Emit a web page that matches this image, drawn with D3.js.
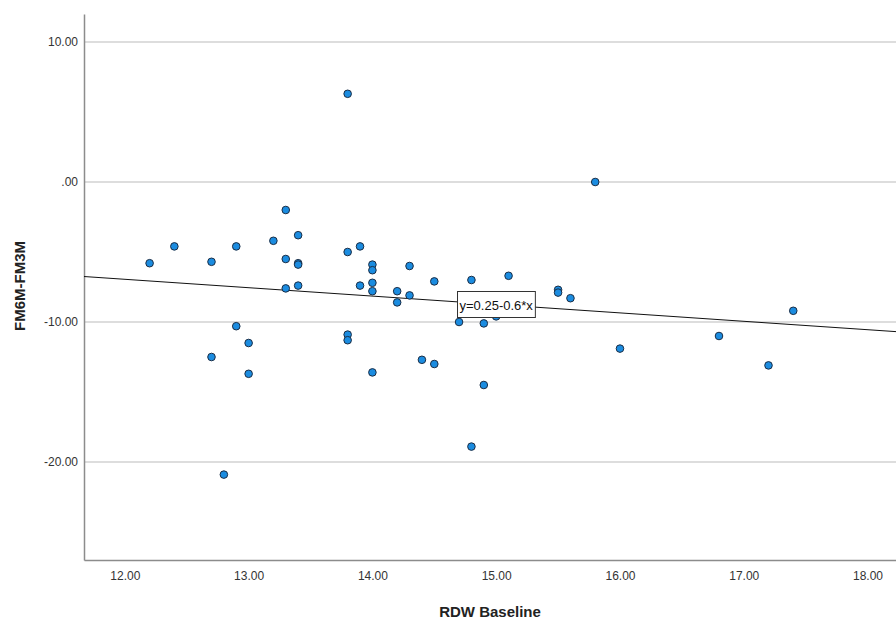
<!DOCTYPE html>
<html>
<head>
<meta charset="utf-8">
<script src="https://cdn.jsdelivr.net/npm/d3@7/dist/d3.min.js"></script>
<style>
  html, body { margin: 0; padding: 0; background: #fff; }
  svg { display: block; }
  text { font-family: "Liberation Sans", Arial, sans-serif; }
</style>
</head>
<body>
<svg id="chart" width="896" height="622"></svg>
<script>
// ---- data ----
const xValues = [12.2, 12.4, 12.7, 12.7, 12.8, 12.9, 12.9, 13.0, 13.0, 13.2,
                 13.3, 13.3, 13.3, 13.4, 13.4, 13.4, 13.4, 13.8, 13.8, 13.8,
                 13.8, 13.9, 13.9, 14.0, 14.0, 14.0, 14.0, 14.0, 14.2, 14.2,
                 14.3, 14.3, 14.4, 14.5, 14.5, 14.7, 14.8, 14.8, 14.9, 14.9,
                 15.0, 15.1, 15.5, 15.5, 15.6, 15.8, 16.0, 16.8, 17.2, 17.4];
const yValues = [-5.8, -4.6, -5.7, -12.5, -20.9, -4.6, -10.3, -11.5, -13.7, -4.2,
                 -2.0, -5.5, -7.6, -3.8, -5.8, -5.9, -7.4, 6.3, -5.0, -10.9,
                 -11.3, -4.6, -7.4, -5.9, -6.3, -7.2, -7.8, -13.6, -7.8, -8.6,
                 -6.0, -8.1, -12.7, -7.1, -13.0, -10.0, -7.0, -18.9, -10.1, -14.5,
                 -9.6, -6.7, -7.7, -7.9, -8.3, 0.0, -11.9, -11.0, -13.1, -9.2];
const xTicks = [12, 13, 14, 15, 16, 17, 18];
const yTicks = [10, 0, -10, -20];
const fitIntercept = 0.25;
const fitSlope = -0.6;
const fitLabel = "y=0.25-0.6*x";
const fitLabelAtX = 15.0;
const xTitle = "RDW Baseline";
const yTitle = "FM6M-FM3M";

(function () {
// ---- layout ----
const svg = d3.select("#chart");
const pLeft = 84, pRight = 896, pTop = 14, pBottom = 560;
const x = d3.scaleLinear().domain([11.67, 18.23]).range([pLeft, pRight]);
const y = d3.scaleLinear().domain([-27, 12]).range([pBottom, pTop]);
const fmt = v => v === 0 ? ".00" : (v < 0 ? "-" : "") + Math.abs(v).toFixed(2);

// gridlines
svg.append("g").selectAll("line").data(yTicks).join("line")
  .attr("x1", pLeft).attr("x2", pRight)
  .attr("y1", d => y(d)).attr("y2", d => y(d))
  .attr("stroke", "#d2d2d2").attr("stroke-width", 1.5);

// axes
const yAxis = d3.axisLeft(y).tickValues(yTicks).tickFormat(fmt).tickSize(0).tickPadding(6);
const gy = svg.append("g").attr("transform", `translate(${pLeft},0)`).call(yAxis);
gy.select(".domain").attr("stroke", "#8c8c8c").attr("stroke-width", 1.5);
gy.selectAll("text").attr("font-size", 12).attr("fill", "#333");

const xAxis = d3.axisBottom(x).tickValues(xTicks).tickFormat(fmt).tickSize(0).tickPadding(11);
const gx = svg.append("g").attr("transform", `translate(0,${pBottom})`).call(xAxis);
gx.select(".domain").attr("stroke", "#8c8c8c").attr("stroke-width", 1.5);
gx.selectAll("text").attr("font-size", 12).attr("fill", "#333");

// fit line
const fit = v => fitIntercept + fitSlope * v;
const xd = x.domain();
svg.append("line")
  .attr("x1", x(xd[0])).attr("y1", y(fit(xd[0])))
  .attr("x2", x(xd[1])).attr("y2", y(fit(xd[1])))
  .attr("stroke", "#111").attr("stroke-width", 1);

// points
svg.append("g").selectAll("circle").data(xValues.map((v, i) => [v, yValues[i]])).join("circle")
  .attr("cx", d => x(d[0])).attr("cy", d => y(d[1]))
  .attr("r", 3.8)
  .attr("fill", "#1b8ce0")
  .attr("stroke", "#1a2d45").attr("stroke-width", 1);

// fit label box
const lg = svg.append("g");
const lt = lg.append("text")
  .attr("x", x(fitLabelAtX)).attr("y", y(fit(fitLabelAtX)) + 5)
  .attr("text-anchor", "middle").attr("font-size", 13).attr("fill", "#111")
  .text(fitLabel);
const bb = lt.node().getBBox();
lg.insert("rect", "text")
  .attr("x", bb.x - 2).attr("y", y(fit(fitLabelAtX)) - 13)
  .attr("width", bb.width + 4).attr("height", 26)
  .attr("fill", "#fff").attr("stroke", "#333").attr("stroke-width", 1);

// titles
svg.append("text").attr("x", 490).attr("y", 617)
  .attr("text-anchor", "middle").attr("font-size", 15).attr("font-weight", "bold").attr("fill", "#222")
  .text(xTitle);
svg.append("text").attr("transform", "translate(25,286) rotate(-90)")
  .attr("text-anchor", "middle").attr("font-size", 15).attr("font-weight", "bold").attr("fill", "#222")
  .text(yTitle);
})();
</script>
</body>
</html>
